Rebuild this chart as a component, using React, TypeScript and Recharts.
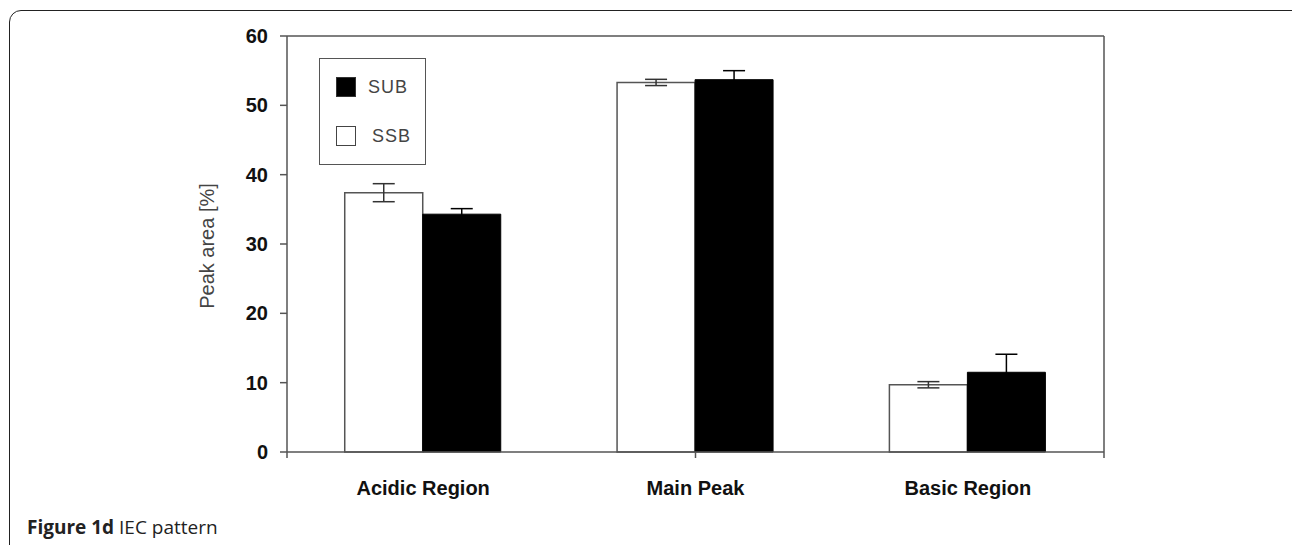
import React from 'react';
import { BarChart, Bar, XAxis, YAxis, ErrorBar, ReferenceLine, Legend } from 'recharts';

const categories = ['Acidic Region', 'Main Peak', 'Basic Region'];
const ssbValues = [37.4, 53.3, 9.7];
const ssbErrors = [1.3, 0.45, 0.45];
const subValues = [34.3, 53.7, 11.5];
const subErrors = [0.8, 1.3, 2.6];
const yTicks = [0, 10, 20, 30, 40, 50, 60];
const boundaryTicks = [0, 1, 2, 3];
const seriesNames = { sub: 'SUB', ssb: 'SSB' };

const data = categories.map((c, i) => ({
  name: c,
  ssb: ssbValues[i],
  ssbErr: ssbErrors[i],
  sub: subValues[i],
  subErr: subErrors[i],
}));

const AXIS = '#555';
const FONT = '"Liberation Sans", Arial, sans-serif';

const LegendBox = () => (
  <div
    style={{
      position: 'relative',
      width: 107,
      height: 107,
      boxSizing: 'border-box',
      border: `1.5px solid ${AXIS}`,
      background: '#fff',
      fontFamily: FONT,
      fontSize: 18,
      color: '#444',
      letterSpacing: 1,
    }}
  >
    <div style={{ position: 'absolute', left: 16, top: 18, width: 20, height: 20, background: '#000', boxSizing: 'border-box', border: '1px solid #333' }} />
    <div style={{ position: 'absolute', left: 48, top: 17, lineHeight: '22px' }}>{seriesNames.sub}</div>
    <div style={{ position: 'absolute', left: 16, top: 67, width: 20, height: 20, background: '#fff', boxSizing: 'border-box', border: '1.5px solid #444' }} />
    <div style={{ position: 'absolute', left: 52, top: 66, lineHeight: '22px' }}>{seriesNames.ssb}</div>
  </div>
);

const YLabel = (props: any) => {
  const vb = props.viewBox || {};
  const x = vb.x + vb.width - 73;
  const y = vb.y + vb.height / 2 + 2;
  return (
    <text x={x} y={y} transform={`rotate(-90, ${x}, ${y})`} textAnchor="middle" fontFamily={FONT} fontSize={20} fill="#444">
      Peak area [%]
    </text>
  );
};

export default function App() {
  return (
    <div style={{ position: 'absolute', left: 0, top: 0, width: 1292, height: 545, background: '#fff', overflow: 'hidden' }}>
      <div
        style={{
          position: 'absolute',
          left: 9,
          top: 10,
          width: 1310,
          height: 580,
          boxSizing: 'border-box',
          border: '1.5px solid #222',
          borderRadius: 12,
        }}
      />
      <div
        style={{
          position: 'absolute',
          left: 27,
          top: 515,
          fontFamily: '"Open Sans", sans-serif',
          fontSize: 19,
          color: '#222',
          whiteSpace: 'nowrap',
          lineHeight: '24px',
        }}
      >
        <span style={{ fontWeight: 700 }}>Figure 1d</span> IEC pattern
      </div>
      <div style={{ position: 'absolute', left: 0, top: 0 }}>
        <BarChart
          width={1292}
          height={545}
          data={data}
          margin={{ top: 36, right: 187, bottom: 32, left: 0 }}
          barCategoryGap="21.2%"
          barGap={0}
        >
          <XAxis
            xAxisId="b"
            dataKey="name"
            height={60}
            axisLine={false}
            tickLine={false}
            tickSize={0}
            tickMargin={28}
            tick={{ fontFamily: FONT, fontSize: 20, fontWeight: 700, fill: '#111' }}
          />
          <XAxis
            xAxisId="a"
            type="number"
            domain={[0, 3]}
            ticks={boundaryTicks}
            allowDataOverflow
            height={1}
            tickFormatter={() => ''}
            tickSize={6}
            axisLine={{ stroke: AXIS, strokeWidth: 1.5 }}
            tickLine={{ stroke: AXIS, strokeWidth: 1.5 }}
          />
          <YAxis
            yAxisId="l"
            width={287}
            domain={[0, 60]}
            ticks={yTicks}
            interval={0}
            tickSize={7}
            tickMargin={12}
            axisLine={{ stroke: AXIS, strokeWidth: 1.5 }}
            tickLine={{ stroke: AXIS, strokeWidth: 1.5 }}
            tick={{ fontFamily: FONT, fontSize: 20, fontWeight: 700, fill: '#111' }}
            label={<YLabel />}
          />
          <YAxis
            yAxisId="r"
            orientation="right"
            width={1}
            domain={[0, 60]}
            ticks={yTicks}
            tick={false}
            tickLine={false}
            axisLine={{ stroke: AXIS, strokeWidth: 1.5 }}
          />
          <ReferenceLine yAxisId="l" xAxisId="b" y={60} stroke={AXIS} strokeWidth={1.5} />
          <Legend
            layout="horizontal"
            verticalAlign="middle"
            align="center"
            wrapperStyle={{ left: 319, top: 58, width: 107, height: 107 }}
            content={<LegendBox />}
          />
          <Bar xAxisId="b" yAxisId="l" dataKey="ssb" name="SSB" fill="#fff" stroke={AXIS} strokeWidth={1.5} isAnimationActive={false}>
            <ErrorBar dataKey="ssbErr" width={11} stroke="#333" strokeWidth={1.5} />
          </Bar>
          <Bar xAxisId="b" yAxisId="l" dataKey="sub" name="SUB" fill="#000" stroke="#000" strokeWidth={1} isAnimationActive={false}>
            <ErrorBar dataKey="subErr" width={11} stroke="#000" strokeWidth={1.5} />
          </Bar>
        </BarChart>
      </div>
    </div>
  );
}
